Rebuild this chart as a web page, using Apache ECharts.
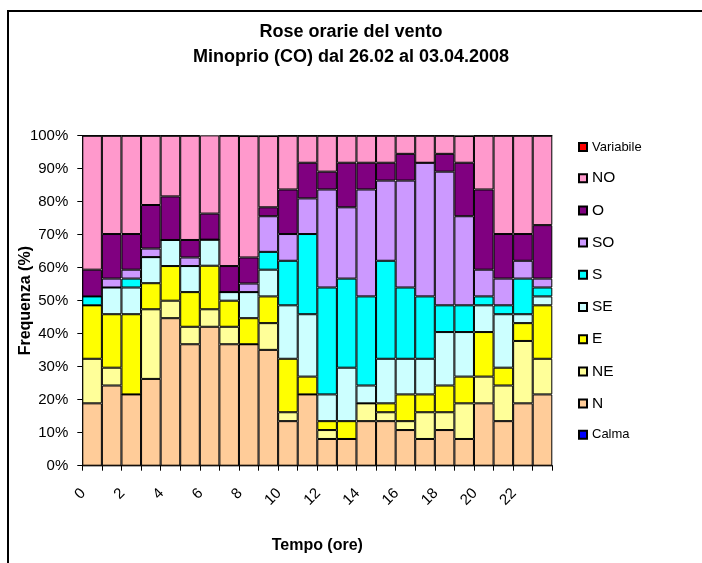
<!DOCTYPE html>
<html>
<head>
<meta charset="utf-8">
<script src="https://cdn.jsdelivr.net/npm/echarts@6/dist/echarts.min.js"></script>
<style>html,body{margin:0;padding:0;background:#fff}#c{width:702px;height:563px}</style>
</head>
<body>
<div id="c"></div>
<script>
var hours = ['0','1','2','3','4','5','6','7','8','9','10','11','12','13','14','15','16','17','18','19','20','21','22','23'];
var calma = [0,0,0,0,0,0,0,0,0,0,0,0,0,0,0,0,0,0,0,0,0,0,0,0];
var nord = [18.9,24.3,21.6,26.3,44.7,36.8,42.1,36.8,36.8,35.1,13.5,21.6,8.1,8.1,13.5,13.5,10.8,8.1,10.8,8.1,18.9,13.5,18.9,21.6];
var nordEst = [13.5,5.4,0,21.1,5.3,5.3,5.3,5.3,0,8.1,2.7,0,2.7,0,5.4,2.7,2.7,8.1,5.4,10.8,8.1,10.8,18.9,10.8];
var est = [16.2,16.2,24.3,7.9,10.5,10.5,13.2,7.9,7.9,8.1,16.2,5.4,2.7,5.4,0,2.7,8.1,5.4,8.1,8.1,13.5,5.4,5.4,16.2];
var sudEst = [0,8.1,8.1,7.9,7.9,7.9,7.9,2.6,7.9,8.1,16.2,18.9,8.1,16.2,5.4,13.5,10.8,10.8,16.2,13.5,8.1,16.2,2.7,2.7];
var sud = [2.7,0,2.7,0,0,0,0,0,0,5.4,13.5,24.3,32.4,27.0,27.0,29.7,21.6,18.9,8.1,8.1,2.7,2.7,10.8,2.7];
var sudOvest = [0,2.7,2.7,2.6,0,2.6,0,0,2.6,10.8,8.1,10.8,29.7,21.6,32.4,24.3,32.4,40.5,40.5,27.0,8.1,8.1,5.4,2.7];
var ovest = [8.1,13.5,10.8,13.2,13.2,5.3,7.9,7.9,7.9,2.7,13.5,10.8,5.4,13.5,8.1,5.4,8.1,0,5.4,16.2,24.3,13.5,8.1,16.2];
var nordOvest = [40.6,29.8,29.8,21.0,18.4,31.6,23.7,39.5,36.8,21.6,16.3,8.2,10.9,8.2,8.2,8.2,5.5,8.2,5.5,8.1,16.3,29.8,29.8,27.1];
var variabile = [0,0,0,0,0,0,0,0,0,0,0,0,0,0,0,0,0,0,0,0,0,0,0,0];
var yTicks = ['0%','10%','20%','30%','40%','50%','60%','70%','80%','90%','100%'];

var seriesDefs = [
  ['Calma', calma, '#0000FF'],
  ['N', nord, '#FFCC99'],
  ['NE', nordEst, '#FFFF99'],
  ['E', est, '#FFFF00'],
  ['SE', sudEst, '#CCFFFF'],
  ['S', sud, '#00FFFF'],
  ['SO', sudOvest, '#CC99FF'],
  ['O', ovest, '#800080'],
  ['NO', nordOvest, '#FF99CC'],
  ['Variabile', variabile, '#FF0000']
];
var FONT = 'Arial, "Liberation Sans", sans-serif';
var series = seriesDefs.map(function (d) {
  return {
    name: d[0], type: 'bar', stack: 'tot', data: d[1],
    barCategoryGap: '0%',
    itemStyle: { color: d[2], borderColor: '#000', borderWidth: 1 },
    emphasis: { disabled: true }
  };
});
var legendData = seriesDefs.slice().reverse().map(function (d) {
  var small = (d[0] === 'Calma' || d[0] === 'Variabile');
  return { name: d[0], textStyle: { fontSize: small ? 13 : 15.5, lineHeight: 14, height: 14 } };
});

var chart = echarts.init(document.getElementById('c'), null, { renderer: 'canvas' });
chart.setOption({
  animation: false,
  backgroundColor: '#fff',
  textStyle: { fontFamily: FONT },
  graphic: [{
    type: 'rect', shape: { x: 8, y: 11, width: 900, height: 900 },
    style: { fill: 'none', stroke: '#000', lineWidth: 2 }, silent: true
  }],
  title: {
    text: 'Rose orarie del vento\nMinoprio (CO) dal 26.02 al 03.04.2008',
    left: 'center', top: 20, padding: [0, 0, 0, 14],
    textStyle: { fontFamily: FONT, fontSize: 18, fontWeight: 'bold', lineHeight: 25, color: '#000' }
  },
  legend: {
    orient: 'vertical', left: 573, top: 135,
    itemWidth: 8, itemHeight: 8, itemGap: 16.2,
    icon: 'rect',
    textStyle: { fontFamily: FONT, color: '#000', fontSize: 15.5 },
    data: legendData
  },
  grid: { left: 82.3, right: 149.7, top: 135.7, bottom: 97.3, containLabel: false },
  xAxis: {
    type: 'category', data: hours,
    name: 'Tempo (ore)', nameLocation: 'middle', nameGap: 72, nameMoveOverlap: false,
    nameTextStyle: { fontFamily: FONT, fontSize: 16, fontWeight: 'bold', color: '#000' },
    axisLine: { lineStyle: { color: '#000', width: 1 } },
    axisTick: { show: true, interval: 0, length: 5, lineStyle: { color: '#000' } },
    axisLabel: {
      interval: 1, rotate: 45, margin: 27, align: 'right', verticalAlign: 'bottom',
      padding: [0, 5, 0, 0],
      fontFamily: FONT, fontSize: 15, color: '#000'
    }
  },
  yAxis: {
    type: 'value', min: 0, max: 100, interval: 10,
    name: 'Frequenza (%)', nameLocation: 'middle', nameGap: 49, nameRotate: 90, nameMoveOverlap: false,
    nameTextStyle: { fontFamily: FONT, fontSize: 16, fontWeight: 'bold', color: '#000' },
    axisLine: { show: true, lineStyle: { color: '#000', width: 1 } },
    axisTick: { show: true, length: 5, lineStyle: { color: '#000' } },
    splitLine: { show: false },
    axisLabel: {
      margin: 14, fontFamily: FONT, fontSize: 15, color: '#000',
      formatter: function (v) { return yTicks[Math.round(v / 10)]; }
    }
  },
  series: series
});
</script>
</body>
</html>
